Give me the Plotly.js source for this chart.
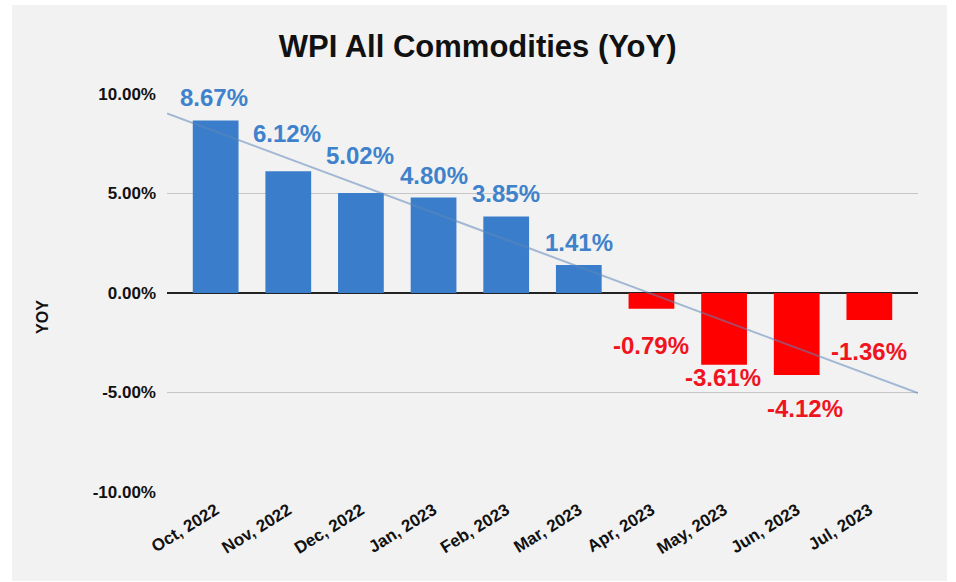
<!DOCTYPE html>
<html>
<head>
<meta charset="utf-8">
<script src="https://cdn.plot.ly/plotly-3.0.1.min.js"></script>
<style>
  html, body { margin: 0; padding: 0; background: #ffffff; width: 956px; height: 582px; overflow: hidden; }
  #chart { position: absolute; left: 12px; top: 5px; width: 935px; height: 576px; }
</style>
</head>
<body>
<div id="chart"></div>
<script>
// ---- data ----
const categories = ["Oct, 2022", "Nov, 2022", "Dec, 2022", "Jan, 2023", "Feb, 2023",
                    "Mar, 2023", "Apr, 2023", "May, 2023", "Jun, 2023", "Jul, 2023"];
const yoyValues = [8.67, 6.12, 5.02, 4.80, 3.85, 1.41, -0.79, -3.61, -4.12, -1.36];
const yTickValues = [-10, -5, 0, 5, 10];
const yTickLabels = ["-10.00%", "-5.00%", "0.00%", "5.00%", "10.00%"];

// ---- derived ----
const idx = categories.map((_, i) => i);
const colors = yoyValues.map(v => v >= 0 ? "#3a7ecb" : "#ff0000");
const labelColors = yoyValues.map(v => v >= 0 ? "#3f82cc" : "#f0141e");

// least-squares linear trend of the series
const n = yoyValues.length;
const mx = idx.reduce((a, b) => a + b, 0) / n;
const my = yoyValues.reduce((a, b) => a + b, 0) / n;
let sxy = 0, sxx = 0;
idx.forEach((x, i) => { sxy += (x - mx) * (yoyValues[i] - my); sxx += (x - mx) * (x - mx); });
const slope = sxy / sxx;
const xMin = -0.67, xMax = n - 1 + 0.67;
const trendX = [xMin, xMax];
const trendY = trendX.map(x => my + slope * (x - mx));

// label placement (pixel shifts)
const shifts = [[-2, 23], [-1, 38], [-1, 38], [0, 22], [0, 23], [0, 22], [0, -37], [-1, -13], [8, -34], [0, -31]];

const annotations = yoyValues.map((v, i) => ({
  x: i, y: v, xref: "x", yref: "y",
  text: v.toFixed(2) + "%",
  showarrow: false,
  xanchor: "center", yanchor: "middle",
  xshift: shifts[i][0], yshift: shifts[i][1],
  font: { family: "Liberation Sans, Arial, sans-serif", size: 24, weight: "bold", color: labelColors[i] }
}));
annotations.push({
  xref: "paper", yref: "paper", x: -0.165, y: 0.44,
  text: "YOY", textangle: -90, showarrow: false,
  xanchor: "center", yanchor: "middle",
  font: { family: "Liberation Sans, Arial, sans-serif", size: 16, weight: "bold", color: "#111111" }
});

const traces = [
  {
    type: "bar",
    x: idx, y: yoyValues,
    marker: { color: colors, line: { width: 0 } },
    width: 0.63,
    hoverinfo: "skip",
    cliponaxis: false
  },
  {
    type: "scatter", mode: "lines",
    x: trendX, y: trendY,
    line: { color: "rgba(95,135,185,0.55)", width: 2 },
    hoverinfo: "skip"
  }
];

const layout = {
  width: 935, height: 576,
  paper_bgcolor: "#f2f2f2",
  plot_bgcolor: "#f2f2f2",
  margin: { l: 155, r: 29, t: 89, b: 89 },
  showlegend: false,
  title: {
    text: "WPI All Commodities (YoY)",
    xref: "container", yref: "container",
    x: 0.498, y: 0.929, xanchor: "center", yanchor: "middle",
    font: { family: "Liberation Sans, Arial, sans-serif", size: 31, weight: "bold", color: "#111111" }
  },
  xaxis: {
    type: "linear",
    range: [xMin, xMax],
    tickvals: idx, ticktext: categories,
    tickangle: -32,
    showgrid: false, zeroline: false, showline: false, ticks: "",
    ticklabelstandoff: 4,
    tickfont: { family: "Liberation Sans, Arial, sans-serif", size: 17, weight: "bold", color: "#111111" },
    fixedrange: true
  },
  yaxis: {
    range: [-10, 10],
    tickvals: yTickValues, ticktext: yTickLabels,
    showgrid: true, gridcolor: "#c6c6c6", gridwidth: 1.5,
    zeroline: true, zerolinecolor: "#222222", zerolinewidth: 1.5,
    showline: false, ticks: "",
    ticklabelstandoff: 10,
    tickfont: { family: "Liberation Sans, Arial, sans-serif", size: 17, weight: "bold", color: "#111111" },
    fixedrange: true
  },
  annotations: annotations
};

Plotly.newPlot("chart", traces, layout, { displayModeBar: false, staticPlot: true });
</script>
</body>
</html>
